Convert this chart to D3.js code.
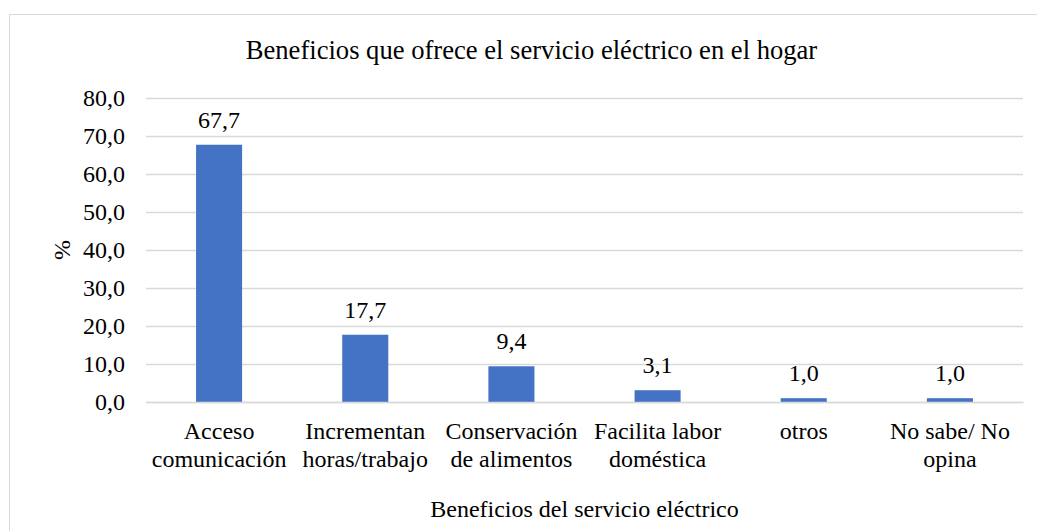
<!DOCTYPE html>
<html><head><meta charset="utf-8">
<script src="https://cdn.jsdelivr.net/npm/d3@7"></script>
<style>body{margin:0;background:#fff}svg{display:block}text{font-family:"Liberation Serif","Times New Roman",serif;fill:#000}</style>
</head><body>
<script>
const categories = [["Acceso","comunicación"],["Incrementan","horas/trabajo"],["Conservación","de alimentos"],["Facilita labor","doméstica"],["otros"],["No sabe/ No","opina"]];
const values = [67.7,17.7,9.4,3.1,1.0,1.0];
const yTicks = [0,10,20,30,40,50,60,70,80];
const title = "Beneficios que ofrece el servicio eléctrico en el hogar";
const xTitle = "Beneficios del servicio eléctrico";
const yTitle = "%";

const W=1037,H=531;
const svg=d3.select("body").append("svg").attr("width",W).attr("height",H);
svg.append("rect").attr("x",9.5).attr("y",14.5).attr("width",W).attr("height",H).attr("fill","#fff").attr("stroke","#d9d9d9").attr("stroke-width",1);

const m={l:146,r:1023,t:98,b:402};
const x=d3.scaleBand().domain(d3.range(categories.length)).range([m.l,m.r]).paddingInner(0.685).paddingOuter(0.3425);
const y=d3.scaleLinear().domain([0,80]).range([m.b,m.t]);
const fmt=d=>d3.format(".1f")(d).replace(".",",");

const ga=svg.append("g").attr("transform",`translate(${m.l},0)`).call(d3.axisLeft(y).tickValues(yTicks).tickSize(-(m.r-m.l)).tickFormat(fmt).tickPadding(21));
ga.select(".domain").remove();
ga.selectAll(".tick line").attr("stroke","#d9d9d9").attr("stroke-width",1.5);
ga.selectAll(".tick text").attr("font-size",24).attr("font-family","Liberation Serif").attr("fill","#000");

svg.selectAll(".bar").data(values).enter().append("rect")
 .attr("x",(d,i)=>x(i)).attr("width",x.bandwidth()).attr("y",d=>y(d)).attr("height",d=>y(0)-y(d)).attr("fill","#4472C4");

svg.selectAll(".lbl").data(values).enter().append("text")
 .attr("x",(d,i)=>x(i)+x.bandwidth()/2).attr("y",d=>y(d)-17).attr("text-anchor","middle").attr("font-size",24).text(fmt);

const gx=svg.append("g").attr("transform",`translate(0,${m.b})`).call(d3.axisBottom(x).tickSize(0).tickFormat(""));
gx.select(".domain").attr("stroke","#d9d9d9").attr("stroke-width",1.5);
categories.forEach((c,i)=>{
  const t=svg.append("text").attr("x",x(i)+x.bandwidth()/2).attr("y",439).attr("text-anchor","middle").attr("font-size",24);
  c.forEach((s,j)=>t.append("tspan").attr("x",x(i)+x.bandwidth()/2).attr("dy",j?28:0).text(s));
});

svg.append("text").attr("x",531.5).attr("y",59).attr("text-anchor","middle").attr("font-size",26.6).text(title);
svg.append("text").attr("x",(m.l+m.r)/2).attr("y",517).attr("text-anchor","middle").attr("font-size",24).text(xTitle);
svg.append("text").attr("transform","translate(70,250) rotate(-90)").attr("text-anchor","middle").attr("font-size",24).text(yTitle);
</script>
</body></html>
